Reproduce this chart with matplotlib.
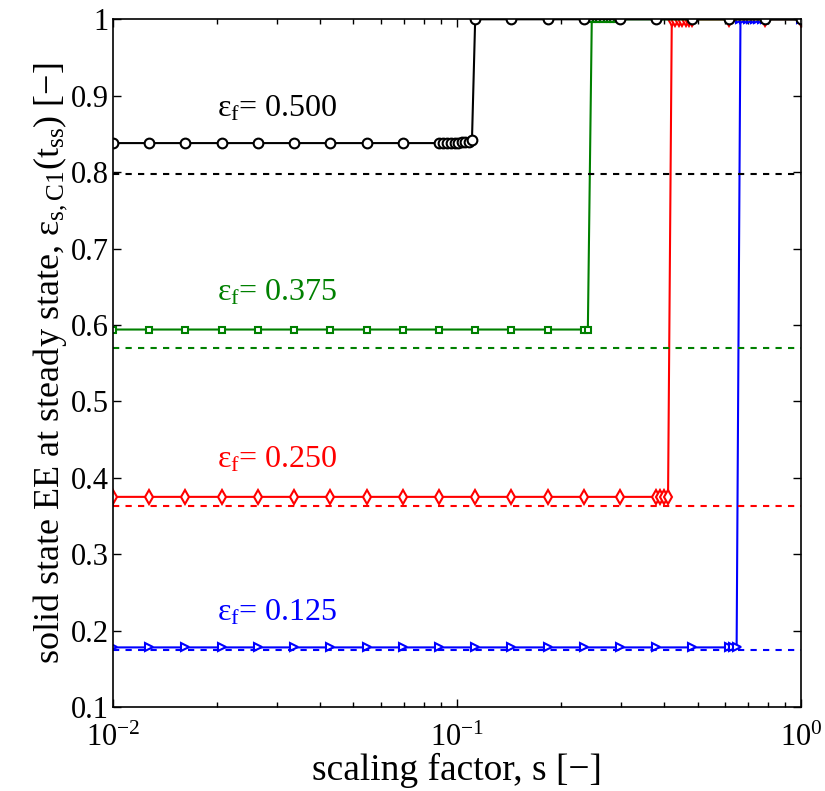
import numpy as np
import matplotlib
matplotlib.use("Agg")
import matplotlib.pyplot as plt
from matplotlib.ticker import FixedLocator, FuncFormatter

plt.rcParams["font.family"] = ["Liberation Serif", "DejaVu Serif"]
plt.rcParams["mathtext.fontset"] = "custom"
plt.rcParams["mathtext.rm"] = "Liberation Serif"
plt.rcParams["mathtext.it"] = "Liberation Serif:italic"
plt.rcParams["mathtext.bf"] = "Liberation Serif:bold"

# scaling factor samples
s_black = [0.01, 0.01274, 0.01624, 0.02069, 0.02637, 0.03360, 0.04281, 0.05456, 0.06952,
           0.08859, 0.09102, 0.09345, 0.09588, 0.09832, 0.1008, 0.1032, 0.1056, 0.1080, 0.1105,
           0.1129, 0.1438, 0.1833, 0.2336, 0.2976, 0.3793, 0.4833, 0.6158, 0.7848, 1.0]
ee_black = [0.838] * 9 + [0.838, 0.838, 0.838, 0.838, 0.838, 0.838, 0.839, 0.839, 0.840, 0.842] \
    + [1.0] * 10

s_green = [0.01, 0.01274, 0.01624, 0.02069, 0.02637, 0.03360, 0.04281, 0.05456, 0.06952,
           0.08859, 0.1129, 0.1438, 0.1833, 0.2336, 0.2400,
           0.2464, 0.2528, 0.2592, 0.2656, 0.2720, 0.2784, 0.2848, 0.2912, 0.2976,
           0.3793, 0.4833, 0.6158, 0.7848, 1.0]
ee_green = [0.594] * 15 + [1.0] * 14

s_red = [0.01, 0.01274, 0.01624, 0.02069, 0.02637, 0.03360, 0.04281, 0.05456, 0.06952,
         0.08859, 0.1129, 0.1438, 0.1833, 0.2336, 0.2976, 0.3793, 0.3897, 0.4001, 0.4105,
         0.4209, 0.4313, 0.4417, 0.4521, 0.4625, 0.4729, 0.4833, 0.6158, 0.7848, 1.0]
ee_red = [0.375] * 19 + [1.0] * 10

s_blue = [0.01, 0.01274, 0.01624, 0.02069, 0.02637, 0.03360, 0.04281, 0.05456, 0.06952,
          0.08859, 0.1129, 0.1438, 0.1833, 0.2336, 0.2976, 0.3793, 0.4833, 0.6158, 0.6327, 0.6496,
          0.6665, 0.6834, 0.7003, 0.7172, 0.7341, 0.7510, 0.7679, 0.7848, 1.0]
ee_blue = [0.178] * 20 + [1.0] * 9

# feed EE levels (dashed reference lines)
ee_feed = [0.798, 0.570, 0.3625, 0.174]
labels = ["0.500", "0.375", "0.250", "0.125"]
label_y = [0.873, 0.632, 0.413, 0.213]

colors = ["black", "#008000", "#ff0000", "#0000ff"]

fig = plt.figure(figsize=(8.25, 7.91), dpi=100)
ax = fig.add_axes([0.137, 0.1062, 0.834, 0.8694])

mk = dict(markerfacecolor="white", markeredgewidth=1.5, linewidth=1.5)
ax.plot(s_blue, ee_blue, color=colors[3], marker=">", markersize=6, **mk)
ax.plot(s_red, ee_red, color=colors[2], marker="d", markersize=7, **mk)
ax.plot(s_green, ee_green, color=colors[1], marker="s", markersize=4.5, **mk)
ax.plot(s_black, ee_black, color=colors[0], marker="o", markersize=7, **mk)

for lvl, col, lab, ly in zip(ee_feed, colors, labels, label_y):
    ax.plot([0.01, 1.0], [lvl, lvl], color=col, linestyle=(0, (3, 3)), linewidth=1.5)
    ax.text(0.0201, ly, r"ε$_\mathrm{f}$= " + lab, color=col, fontsize=23,
            ha="left", va="baseline")

ax.set_xscale("log")
ax.set_xlim(0.01, 1.0)
ax.set_ylim(0.1, 1.0)
ax.yaxis.set_major_locator(FixedLocator(np.arange(0.1, 1.01, 0.1)))
ax.yaxis.set_major_formatter(FuncFormatter(lambda v, p: "%g" % round(v, 1)))

ax.tick_params(which="both", direction="in", top=True, right=True, labelsize=22)
ax.tick_params(which="major", length=6, width=1.0)
ax.tick_params(which="minor", length=3.5, width=1.0)
ax.tick_params(axis="x", which="major", pad=12)
ax.tick_params(axis="y", which="major", pad=3)
for sp in ax.spines.values():
    sp.set_linewidth(1.2)

ax.set_xlabel("scaling factor, s [−]", fontsize=27, labelpad=0)
ax.set_ylabel(r"solid state EE at steady state, ε$_\mathrm{s,C1}$(t$_\mathrm{ss}$) [−]",
              fontsize=26, labelpad=1)

plt.savefig("out.png", dpi=100)
plt.close()
